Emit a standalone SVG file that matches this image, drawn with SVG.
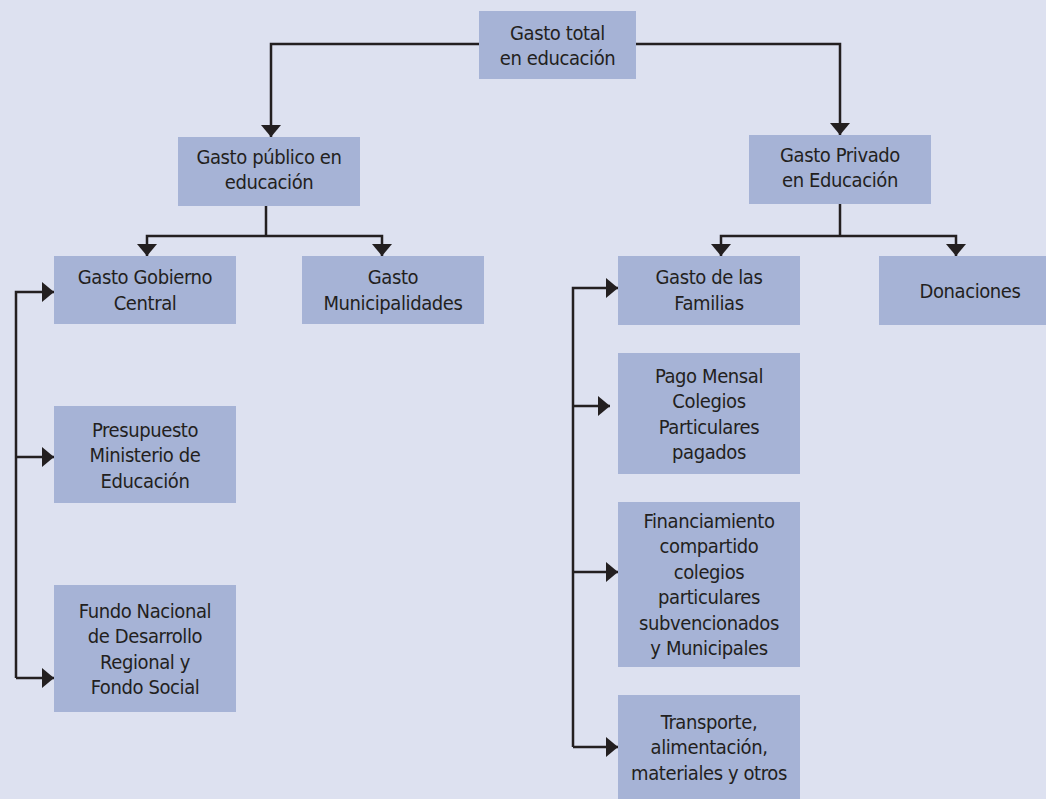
<svg xmlns="http://www.w3.org/2000/svg" width="1046" height="799" viewBox="0 0 1046 799">
<style>
.bg{fill:#dde1f0}
.box{fill:#a6b3d6}
.t{font-family:"DejaVu Sans Condensed","DejaVu Sans",sans-serif;font-size:20px;letter-spacing:-0.4px;fill:#231f20;text-anchor:middle}
.c{fill:none;stroke:#231f20;stroke-width:2.5}
</style>
<defs>
<marker id="ah" viewBox="0 0 12 20" refX="12" refY="10" markerWidth="12" markerHeight="20" markerUnits="userSpaceOnUse" orient="auto">
<path d="M0,0 L12,10 L0,20 z" fill="#231f20"/>
</marker>
</defs>
<rect class="bg" x="0" y="0" width="1046" height="799"/>
<g id="connectors">
<path class="c" d="M479,44 H271 V137" marker-end="url(#ah)"/>
<path class="c" d="M636,44 H840 V135" marker-end="url(#ah)"/>
<path class="c" d="M266,206 V236"/>
<path class="c" d="M266,236 H147 V256" marker-end="url(#ah)"/>
<path class="c" d="M266,236 H382 V256" marker-end="url(#ah)"/>
<path class="c" d="M840,204 V236"/>
<path class="c" d="M840,236 H721 V256" marker-end="url(#ah)"/>
<path class="c" d="M840,236 H956 V256" marker-end="url(#ah)"/>
<path class="c" d="M16,678 V292 H54" marker-end="url(#ah)"/>
<path class="c" d="M16,457 H54" marker-end="url(#ah)"/>
<path class="c" d="M16,678 H54" marker-end="url(#ah)"/>
<path class="c" d="M573,747 V288 H618" marker-end="url(#ah)"/>
<path class="c" d="M573,406 H610" marker-end="url(#ah)"/>
<path class="c" d="M573,572 H618" marker-end="url(#ah)"/>
<path class="c" d="M573,747 H618" marker-end="url(#ah)"/>
</g>
<g id="n-total"><rect class="box" x="479" y="11" width="157" height="68"/><text class="t" x="557.5" y="40">Gasto total</text><text class="t" x="557.5" y="65">en educación</text></g>
<g id="n-publico"><rect class="box" x="178" y="137" width="182" height="69"/><text class="t" x="269" y="164">Gasto público en</text><text class="t" x="269" y="189">educación</text></g>
<g id="n-privado"><rect class="box" x="749" y="135" width="182" height="69"/><text class="t" x="840" y="162">Gasto Privado</text><text class="t" x="840" y="187">en Educación</text></g>
<g id="n-gobierno"><rect class="box" x="54" y="256" width="182" height="68"/><text class="t" x="145" y="284">Gasto Gobierno</text><text class="t" x="145" y="310">Central</text></g>
<g id="n-municipal"><rect class="box" x="302" y="256" width="182" height="68"/><text class="t" x="393" y="284">Gasto</text><text class="t" x="393" y="310">Municipalidades</text></g>
<g id="n-familias"><rect class="box" x="618" y="256" width="182" height="69"/><text class="t" x="709" y="284">Gasto de las</text><text class="t" x="709" y="310">Familias</text></g>
<g id="n-donaciones"><rect class="box" x="879" y="256" width="167" height="69"/><text class="t" x="970" y="298">Donaciones</text></g>
<g id="n-presupuesto"><rect class="box" x="54" y="406" width="182" height="97"/><text class="t" x="145" y="437">Presupuesto</text><text class="t" x="145" y="462">Ministerio de</text><text class="t" x="145" y="488">Educación</text></g>
<g id="n-fondo"><rect class="box" x="54" y="585" width="182" height="127"/><text class="t" x="145" y="618">Fundo Nacional</text><text class="t" x="145" y="643">de Desarrollo</text><text class="t" x="145" y="669">Regional y</text><text class="t" x="145" y="694">Fondo Social</text></g>
<g id="n-pago"><rect class="box" x="618" y="353" width="182" height="121"/><text class="t" x="709" y="383">Pago Mensal</text><text class="t" x="709" y="408">Colegios</text><text class="t" x="709" y="434">Particulares</text><text class="t" x="709" y="459">pagados</text></g>
<g id="n-financ"><rect class="box" x="618" y="502" width="182" height="165"/><text class="t" x="709" y="528">Financiamiento</text><text class="t" x="709" y="553">compartido</text><text class="t" x="709" y="579">colegios</text><text class="t" x="709" y="604">particulares</text><text class="t" x="709" y="630">subvencionados</text><text class="t" x="709" y="655">y Municipales</text></g>
<g id="n-transporte"><rect class="box" x="618" y="695" width="182" height="104"/><text class="t" x="709" y="729">Transporte,</text><text class="t" x="709" y="754">alimentación,</text><text class="t" x="709" y="780">materiales y otros</text></g>
</svg>
